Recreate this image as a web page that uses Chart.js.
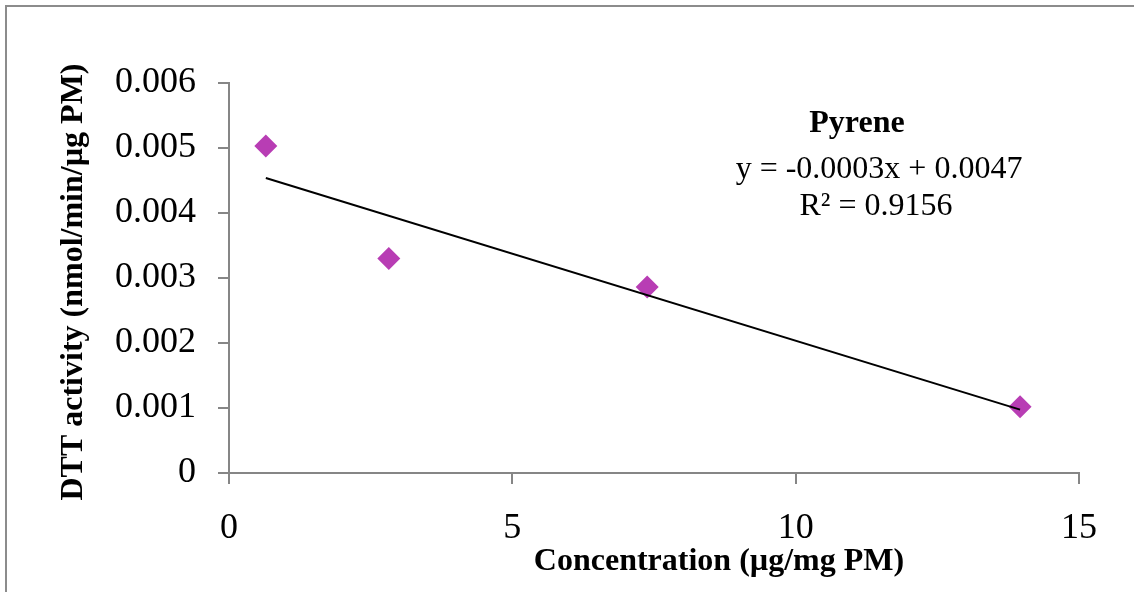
<!DOCTYPE html>
<html>
<head>
<meta charset="utf-8">
<script src="https://cdn.jsdelivr.net/npm/chart.js@4.4.1/dist/chart.umd.min.js"></script>
<style>
  html, body { margin: 0; padding: 0; background: #fff; }
  canvas { display: block; }
</style>
</head>
<body>
<canvas id="dttChart" width="1134" height="592"></canvas>
<script>
// values
const concentration = [0.65, 2.82, 7.38, 13.96];
const dttActivity = [0.00503, 0.00330, 0.00286, 0.00102];
const xTicks = [0, 5, 10, 15];
const yTicks = [0, 0.001, 0.002, 0.003, 0.004, 0.005, 0.006];
const seriesName = 'Pyrene';
const equationText = 'y = -0.0003x + 0.0047';
const r2Text = 'R² = 0.9156';

// least squares fit for the trendline
function linearFit(xs, ys) {
  const n = xs.length;
  const mx = xs.reduce((a, b) => a + b, 0) / n;
  const my = ys.reduce((a, b) => a + b, 0) / n;
  let sxy = 0, sxx = 0;
  xs.forEach((x, i) => { sxy += (x - mx) * (ys[i] - my); sxx += (x - mx) * (x - mx); });
  const slope = sxy / sxx;
  return { slope, intercept: my - slope * mx };
}
const fit = linearFit(concentration, dttActivity);
const xMin = Math.min(...concentration), xMax = Math.max(...concentration);
const trend = [
  { x: xMin, y: fit.intercept + fit.slope * xMin },
  { x: xMax, y: fit.intercept + fit.slope * xMax }
];

const axisGray = '#868686';
const serif = '"Liberation Serif", "Times New Roman", serif';

const textPlugin = {
  id: 'texts',
  beforeDraw(chart) {
    const ctx = chart.ctx;
    ctx.save();
    ctx.strokeStyle = '#8c8c8c';
    ctx.lineWidth = 2;
    ctx.beginPath();
    ctx.moveTo(6, 700);
    ctx.lineTo(6, 6);
    ctx.lineTo(1200, 6);
    ctx.stroke();
    ctx.restore();
  },
  afterDraw(chart) {
    const ctx = chart.ctx;
    ctx.save();
    ctx.fillStyle = '#000';
    ctx.textAlign = 'center';
    ctx.textBaseline = 'alphabetic';

    ctx.font = 'bold 32px ' + serif;
    ctx.fillText(seriesName, 857, 132);
    ctx.font = '32px ' + serif;
    ctx.fillText(equationText, 879, 178);
    ctx.fillText(r2Text, 876, 215);

    ctx.font = 'bold 32px ' + serif;
    ctx.fillText('Concentration (µg/mg PM)', 719, 570);

    ctx.translate(82, 282);
    ctx.rotate(-Math.PI / 2);
    ctx.fillText('DTT activity (nmol/min/µg PM)', 0, 0);
    ctx.restore();
  }
};

new Chart(document.getElementById('dttChart'), {
  type: 'scatter',
  data: {
    datasets: [
      {
        label: seriesName,
        data: concentration.map((x, i) => ({ x, y: dttActivity[i] })),
        pointStyle: 'rectRot',
        pointRadius: 11.5,
        pointBackgroundColor: '#B83DB4',
        pointBorderColor: '#B83DB4',
        pointBorderWidth: 0,
        showLine: false,
        order: 2
      },
      {
        label: 'Linear (' + seriesName + ')',
        data: trend,
        showLine: true,
        borderColor: '#000',
        borderWidth: 2,
        pointRadius: 0,
        order: 1
      }
    ]
  },
  options: {
    responsive: false,
    animation: false,
    devicePixelRatio: 1,
    layout: { padding: { left: 0, top: 83, right: 55, bottom: 0 } },
    plugins: { legend: { display: false }, tooltip: { enabled: false } },
    scales: {
      x: {
        type: 'linear',
        min: 0, max: 15,
        afterBuildTicks: s => { s.ticks = xTicks.map(v => ({ value: v })); },
        afterFit: s => { s.height = 592 - 473; },
        grid: { drawOnChartArea: false, color: axisGray, lineWidth: 2, tickLength: 11 },
        border: { color: axisGray, width: 2 },
        ticks: { color: '#000', font: { family: serif, size: 36 }, padding: 23, maxRotation: 0 }
      },
      y: {
        type: 'linear',
        min: 0, max: 0.006,
        afterBuildTicks: s => { s.ticks = yTicks.map(v => ({ value: v })); },
        afterFit: s => { s.width = 229; },
        grid: { drawOnChartArea: false, color: axisGray, lineWidth: 2, tickLength: 11 },
        border: { color: axisGray, width: 2 },
        ticks: {
          color: '#000', font: { family: serif, size: 36 }, padding: 22,
          callback: v => v === 0 ? '0' : v.toFixed(3)
        }
      }
    }
  },
  plugins: [textPlugin]
});
</script>
</body>
</html>
